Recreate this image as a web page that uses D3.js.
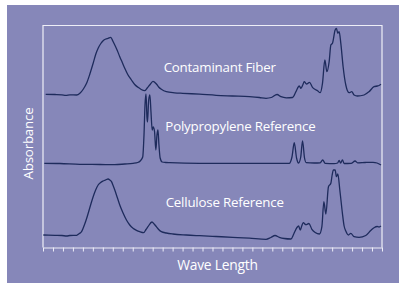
<!DOCTYPE html>
<html>
<head>
<meta charset="utf-8">
<script src="https://cdn.jsdelivr.net/npm/d3@7"></script>
<style>
  html, body { margin: 0; padding: 0; background: #fff; }
  svg { display: block; }
</style>
</head>
<body>
<div id="chart"></div>
<script>
// IR spectra comparison: three stacked absorbance traces against wave length.
// Values are in arbitrary units (x: wave length, y: offset absorbance).

const seriesNames = ['Contaminant Fiber', 'Polypropylene Reference', 'Cellulose Reference'];

const contaminant = [
  [2.7,153.2],[12,153],[19,152.7],[23,152.2],[27,152.7],[33.7,152.5],[37,154.2],[40.5,158.5],
  [43.7,164.2],[47,173.5],[50.3,184.2],[53,193.5],[55.3,199.2],[58,204],[60.3,206.8],[63,208.5],
  [65.3,209.2],[68,210.2],[70,206.5],[72,202.5],[74.5,197],[77,190.8],[79.5,185],[82,179.2],
  [85,173],[88.7,167.5],[92,163],[95.3,160.2],[98.5,158],[102,156.8],[104.5,159.5],[107,162.5],
  [110.3,166.2],[113.7,163.5],[116,160.5],[118.7,158.2],[123.7,155.8],[132,154.7],[140.3,154.2],
  [157,153.3],[173.7,152.2],[190,151.5],[207,150.8],[217,150],[223.7,149.2],[229,150],[234.7,153],
  [238.7,150.8],[244,149.7],[250.3,150],[253.7,155.8],[257,161.5],[258.7,159.2],[260.5,162.5],
  [262,165.8],[264.3,163.5],[267.3,165.2],[270.3,160.2],[273,158],[275.3,156.8],[278,154.8],
  [280.3,164.2],[282.7,187.5],[284.7,175.8],[287,185.8],[288.7,202.5],[290.3,204.2],[293,217.5],
  [294.3,219.2],[295.7,214.2],[297,215.8],[298.7,204.2],[301,180.8],[303.7,162.5],[307,154.8],
  [309.7,155.8],[312,152.5],[315.3,151.5],[322,152.5],[327,155.8],[332,160.8],[335.3,161.5],
  [337,162],[339,163.2]
];

const polypropylene = [
  [1.3,84.2],[17,84],[37,83.2],[57,83],[72,82.8],[82,83.5],[90.3,84.2],[95,85],[97.5,86.5],
  [100,90.5],[101.3,112.5],[102.3,142.5],[103.3,153.5],[104.3,129.5],[104.8,125.5],[106,147.5],
  [107.2,152.5],[108.3,135.5],[109.5,117.5],[110.5,120.5],[111.8,116.5],[113.2,97.5],[114.3,112.5],
  [115.3,117.5],[116.3,102.5],[117.5,89.5],[119.5,85.5],[123,85],[127,84.8],[157,84.2],[207,84.2],
  [247,84.2],[249.7,90.5],[252,104.8],[254.3,89.5],[256.3,84.5],[258.5,90.5],[260.3,106.5],
  [262.3,89.5],[264,84.8],[272,84.5],[278,84.7],[280.5,87.5],[283,84.2],[292,83.8],[295.5,84.5],
  [297,87],[298.5,84.5],[300.3,87.7],[302,84],[309,84.2],[313,86.5],[315.5,84.7],[323,85],
  [331,85.2],[335,84.5],[339,82.5]
];

const cellulose = [
  [0.3,12.5],[12,12.2],[19,12],[23.7,11.5],[27,12],[33.7,12.2],[36.5,14],[38.7,15.8],[41.5,22.5],
  [44.3,30.8],[47.3,41],[50.3,50.8],[52.8,57.5],[55.3,62.5],[57.8,65],[60.3,66.5],[63,67.7],
  [65.3,68.5],[67,67.5],[68.7,65.8],[70.3,62],[72,57.5],[74.5,50],[77,42.5],[80.3,34.5],
  [83.7,27.5],[87,22.5],[90.3,19.2],[93.7,17.2],[97,15.8],[101,14.8],[103.3,18],[105.3,20.8],
  [109.3,25.5],[111.5,23.5],[113.7,20.8],[116,18],[118.7,15.8],[123.7,14.5],[130.3,13.5],
  [143.7,12.5],[157,11.8],[173.7,11],[190.3,10.2],[207,9.3],[223.7,8.2],[228.5,10],[232.7,12],
  [237,10.2],[242,9],[248.7,8.5],[251.5,13.5],[254.7,20],[256.3,21.5],[258,17.5],[259.5,21.5],
  [261,24.8],[263.7,22.8],[266.7,24],[269.7,18.2],[273,15],[277.3,13.5],[279.7,20.8],[281.7,45.8],
  [283.7,33.5],[286.3,60.8],[288.7,64.2],[290,72.5],[291.3,77.5],[293,77.5],[294.3,70.8],
  [295.7,73.5],[297.7,57.5],[300.3,34.2],[302,21.5],[303.7,16.5],[306.3,12.5],[308.7,14.2],
  [312,10.8],[317,10.2],[323.7,12],[328.7,17],[332,19.8],[335.3,21],[337,20.5],[339,21.5]
];

// label anchor points in data units (start x, baseline y)
const labelPos = [[121, 175.8], [122.7, 116.8], [123, 40.8]];

const tickValues = d3.range(0, 341, 10);

const width = 404, height = 283;
const plot = { left: 43, right: 382, top: 25.5, bottom: 247.5 };

const svg = d3.select('#chart').append('svg')
  .attr('width', width)
  .attr('height', height);

// purple panel
svg.append('rect')
  .attr('x', 7).attr('y', 5)
  .attr('width', 392).attr('height', 278)
  .attr('fill', '#8687b9');

const x = d3.scaleLinear().domain([0, 340]).range([plot.left, plot.right]);
const y = d3.scaleLinear().domain([0, 222]).range([plot.bottom, plot.top]);

const frameColor = '#eeeef7';

// frame: left, top, right
svg.append('path')
  .attr('d', `M${plot.left},${plot.bottom}V${plot.top}H${plot.right}V${plot.bottom}`)
  .attr('fill', 'none')
  .attr('stroke', frameColor)
  .attr('stroke-width', 1.2);

// bottom axis with ticks
const xAxis = d3.axisBottom(x)
  .tickValues(tickValues)
  .tickSize(4)
  .tickSizeOuter(0)
  .tickFormat('');

const gx = svg.append('g')
  .attr('transform', `translate(0,${plot.bottom})`)
  .call(xAxis);
gx.select('.domain').attr('stroke', frameColor).attr('stroke-width', 1.2);
gx.selectAll('.tick line').attr('stroke', frameColor).attr('stroke-width', 1);

const line = d3.line()
  .x(d => x(d[0]))
  .y(d => y(d[1]))
  .curve(d3.curveMonotoneX);

[contaminant, polypropylene, cellulose].forEach(s => {
  svg.append('path')
    .datum(s)
    .attr('d', line)
    .attr('fill', 'none')
    .attr('stroke', '#1e2b5c')
    .attr('stroke-width', 1.3)
    .attr('stroke-linejoin', 'round');
});

const font = '"Open Sans", "Noto Sans", sans-serif';

svg.selectAll('text.series')
  .data(seriesNames)
  .join('text')
  .attr('class', 'series')
  .attr('x', (d, i) => x(labelPos[i][0]))
  .attr('y', (d, i) => y(labelPos[i][1]))
  .attr('fill', '#fff')
  .attr('font-family', font)
  .attr('font-size', '13.3px')
  .attr('letter-spacing', '-0.2px')
  .text(d => d);

svg.append('text')
  .attr('x', 217.5)
  .attr('y', 269.5)
  .attr('text-anchor', 'middle')
  .attr('fill', '#fff')
  .attr('font-family', font)
  .attr('font-size', '13.8px')
  .attr('letter-spacing', '-0.2px')
  .text('Wave Length');

svg.append('text')
  .attr('transform', 'translate(32.5,143.5) rotate(-90)')
  .attr('text-anchor', 'middle')
  .attr('fill', '#fff')
  .attr('font-family', font)
  .attr('font-size', '13.3px')
  .attr('letter-spacing', '-0.2px')
  .text('Absorbance');
</script>
</body>
</html>
